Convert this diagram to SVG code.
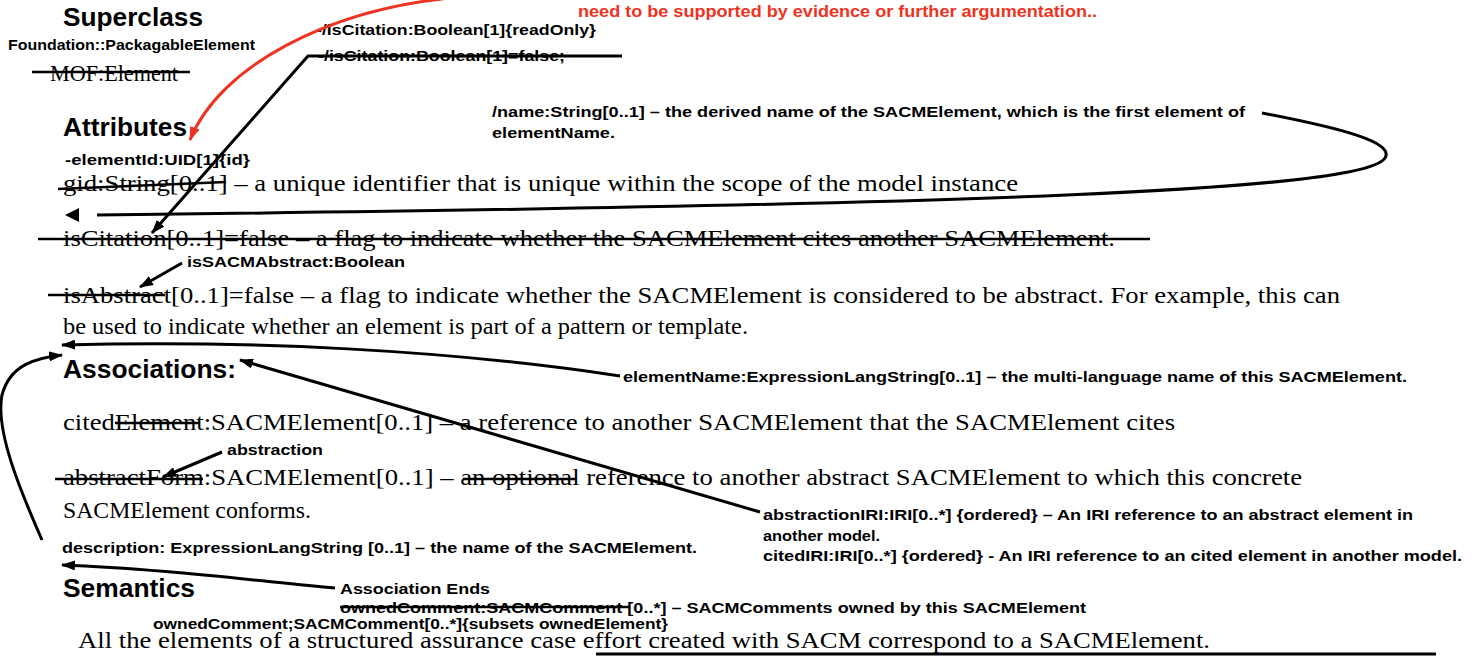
<svg xmlns="http://www.w3.org/2000/svg" width="1472" height="656" viewBox="0 0 1472 656">
<style>
.h{font-family:"Liberation Sans",Arial,sans-serif;font-weight:bold;font-size:25px;fill:#000}
.b{font-family:"Liberation Sans",Arial,sans-serif;font-weight:bold;font-size:15px;fill:#000}
.r{font-family:"Liberation Sans",Arial,sans-serif;font-weight:bold;font-size:16px;fill:#ee3322}
.t{font-family:"Liberation Serif","Times New Roman",serif;font-size:24px;fill:#000}
.s{stroke:#000;stroke-width:2.5;fill:none}
.c{stroke:#000;stroke-width:3;fill:none}
</style>
<defs>
<marker id="ah" viewBox="0 0 14 10" refX="13" refY="5" markerWidth="14" markerHeight="10" markerUnits="userSpaceOnUse" orient="auto"><path d="M0,0 L14,5 L0,10 z" fill="#000"/></marker>
<marker id="ahr" viewBox="0 0 14 10" refX="13" refY="5" markerWidth="14" markerHeight="10" markerUnits="userSpaceOnUse" orient="auto"><path d="M0,0 L14,5 L0,10 z" fill="#ee3322"/></marker>
</defs>
<g id="superclass">
<text class="h" x="63" y="26" textLength="140" lengthAdjust="spacingAndGlyphs">Superclass</text>
<text class="b" x="8" y="50" textLength="247" lengthAdjust="spacingAndGlyphs">Foundation::PackagableElement</text>
<text class="t" x="50" y="81" textLength="128" lengthAdjust="spacingAndGlyphs">MOF:Element</text>
<line class="s" x1="32" y1="72" x2="190" y2="72"/>
</g>
<g id="red-note">
<text class="r" x="578" y="17" textLength="519" lengthAdjust="spacingAndGlyphs">need to be supported by evidence or further argumentation..</text>
</g>
<g id="iscitation-note">
<text class="b" x="316" y="35" textLength="280" lengthAdjust="spacingAndGlyphs">-/isCitation:Boolean[1]{readOnly}</text>
<text class="b" x="318" y="61" textLength="247" lengthAdjust="spacingAndGlyphs">-/isCitation:Boolean[1]=false;</text>
</g>
<g id="name-note">
<text class="b" x="492" y="117" textLength="753" lengthAdjust="spacingAndGlyphs">/name:String[0..1] – the derived name of the SACMElement, which is the first element of</text>
<text class="b" x="492" y="138" textLength="123" lengthAdjust="spacingAndGlyphs">elementName.</text>
</g>
<g id="attributes">
<text class="h" x="63" y="136" textLength="124" lengthAdjust="spacingAndGlyphs">Attributes</text>
<text class="b" x="65" y="165" textLength="185" lengthAdjust="spacingAndGlyphs">-elementId:UID[1]{id}</text>
<text class="t" x="63" y="191" textLength="955" lengthAdjust="spacingAndGlyphs">gid:String[0..1] – a unique identifier that is unique within the scope of the model instance</text>
<line class="s" x1="58" y1="189" x2="226" y2="182"/>
<text class="t" x="63" y="246" textLength="1052" lengthAdjust="spacingAndGlyphs">isCitation[0..1]=false – a flag to indicate whether the SACMElement cites another SACMElement.</text>
<line class="s" x1="38" y1="239" x2="1150" y2="239"/>
<text class="b" x="187" y="267" textLength="218" lengthAdjust="spacingAndGlyphs">isSACMAbstract:Boolean</text>
<text class="t" x="63" y="303" textLength="1277" lengthAdjust="spacingAndGlyphs">isAbstract[0..1]=false – a flag to indicate whether the SACMElement is considered to be abstract. For example, this can</text>
<line class="s" x1="48" y1="295" x2="165" y2="295"/>
<text class="t" x="63" y="334" textLength="685" lengthAdjust="spacingAndGlyphs">be used to indicate whether an element is part of a pattern or template.</text>
</g>
<g id="associations">
<text class="h" x="63" y="378" textLength="173" lengthAdjust="spacingAndGlyphs">Associations:</text>
<text class="b" x="623" y="382" textLength="784" lengthAdjust="spacingAndGlyphs">elementName:ExpressionLangString[0..1] – the multi-language name of this SACMElement.</text>
<text class="t" x="63" y="430" textLength="1112" lengthAdjust="spacingAndGlyphs">citedElement:SACMElement[0..1] – a reference to another SACMElement that the SACMElement cites</text>
<line class="s" x1="115" y1="423" x2="200" y2="423"/>
<text class="b" x="227" y="455" textLength="96" lengthAdjust="spacingAndGlyphs">abstraction</text>
<text class="t" x="63" y="485" textLength="1239" lengthAdjust="spacingAndGlyphs">abstractForm:SACMElement[0..1] – an optional reference to another abstract SACMElement to which this concrete</text>
<line class="s" x1="55" y1="479" x2="203" y2="479"/>
<line class="s" x1="463" y1="479" x2="575" y2="479"/>
<text class="t" x="63" y="518" textLength="248" lengthAdjust="spacingAndGlyphs">SACMElement conforms.</text>
<text class="b" x="763" y="520" textLength="650" lengthAdjust="spacingAndGlyphs">abstractionIRI:IRI[0..*] {ordered} – An IRI reference to an abstract element in</text>
<text class="b" x="763" y="541" textLength="117" lengthAdjust="spacingAndGlyphs">another model.</text>
<text class="b" x="763" y="561" textLength="699" lengthAdjust="spacingAndGlyphs">citedIRI:IRI[0..*] {ordered} - An IRI reference to an cited element in another model.</text>
<text class="b" x="62" y="553" textLength="635" lengthAdjust="spacingAndGlyphs">description: ExpressionLangString [0..1] – the name of the SACMElement.</text>
</g>
<g id="semantics">
<text class="h" x="63" y="597" textLength="132" lengthAdjust="spacingAndGlyphs">Semantics</text>
<text class="b" x="340" y="594" textLength="150" lengthAdjust="spacingAndGlyphs">Association Ends</text>
<text class="b" x="340" y="613" textLength="746" lengthAdjust="spacingAndGlyphs">ownedComment:SACMComment [0..*] – SACMComments owned by this SACMElement</text>
<line class="s" x1="340" y1="607" x2="630" y2="607"/>
<text class="b" x="153" y="629" textLength="515" lengthAdjust="spacingAndGlyphs">ownedComment;SACMComment[0..*]{subsets ownedElement}</text>
<text class="t" x="78" y="648" textLength="1132" lengthAdjust="spacingAndGlyphs">All the elements of a structured assurance case effort created with SACM correspond to a SACMElement.</text>
</g>
<g id="connectors">
<path d="M450 -2 C 330 10, 220 65, 190 140" stroke="#ee3322" stroke-width="3" fill="none" marker-end="url(#ahr)"/>
<path class="c" d="M622 56 L308 56 L152 233" marker-end="url(#ah)"/>
<path class="c" d="M1262 113 C 1340 128, 1395 142, 1385 158 C 1365 190, 1000 205, 97 215"/>
<polygon points="65,215 79,208 79,222" fill="#000"/>
<path class="c" d="M182 263 L140 287" marker-end="url(#ah)"/>
<path class="c" d="M620 376 C 450 350, 250 340, 62 345" marker-end="url(#ah)"/>
<path class="c" d="M760 512 L240 360" marker-end="url(#ah)"/>
<path class="c" d="M42 540 C 20 490, -5 430, 2 395 C 10 365, 35 358, 62 355" marker-end="url(#ah)"/>
<path class="c" d="M222 452 L163 477" marker-end="url(#ah)"/>
<path class="c" d="M335 588 C 250 580, 150 568, 62 565" marker-end="url(#ah)"/>
<line class="c" x1="596" y1="654" x2="1436" y2="654"/>
</g>
</svg>
